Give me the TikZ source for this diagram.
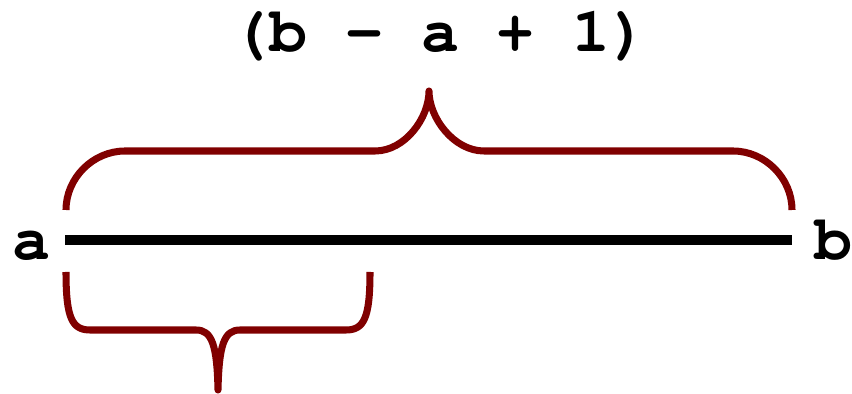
\documentclass[tikz,border=0pt]{standalone}
\usepackage{fontspec}
\usepackage{xcolor}
\usepackage{tikz}
\usetikzlibrary{positioning}
\definecolor{bracered}{RGB}{128,0,0}
\newcommand\courierbold{\fontencoding{T1}\fontfamily{pcr}\fontseries{b}\selectfont}
\tikzstyle{brace} = [draw=bracered, line width=4pt, line cap=butt, line join=round]
\tikzstyle{segment} = [draw=black, line width=5.2pt]
\tikzstyle{endtext} = [inner sep=0pt, font=\courierbold\fontsize{36}{43}\selectfont]

\begin{document}
\begin{tikzpicture}[x=0.02cm, y=-0.02cm]
    \useasboundingbox (0,0) rectangle (852,394);

    % Ends of the range
    \coordinate (start) at (65,240);
    \coordinate (stop) at (792,240);
    \node (a) [endtext, anchor=base] at (31,260) {a};
    \node (b) [endtext, anchor=base west] at (814,260) {b};

    % The range
    \draw [segment] (start) -- (stop);

    % Brace over the whole range
    \coordinate (toptip) at (429,91);
    \draw [brace] (66,210) .. controls (66,178) and (93,151) .. (125,151) -- (375,151)
        .. controls (405,151) and (429,118) .. (toptip)
        .. controls (429,118) and (454,151) .. (484,151) -- (733,151)
        .. controls (765,151) and (792,178) .. (792,210);

    % Length of the range
    \node (len) [endtext, anchor=base] at (440,52) {(b - a + 1)};

    % Brace under the first part
    \coordinate (bottip) at (218,390);
    \draw [brace] (66,272) .. controls (66,318) and (72,330) .. (90,330) -- (196,330)
        .. controls (212,330) and (217,345) .. (bottip)
        .. controls (219,345) and (224,330) .. (240,330) -- (346,330)
        .. controls (364,330) and (370,318) .. (370,272);
\end{tikzpicture}
\end{document}
